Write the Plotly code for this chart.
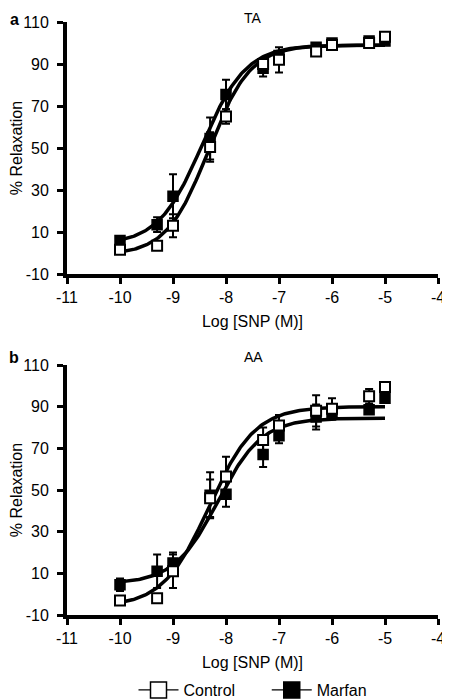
import numpy as np
import plotly.graph_objects as go

# ---- data ----
log_snp = [-10, -9.3, -9, -8.3, -8, -7.3, -7, -6.3, -6, -5.3, -5]

ta_control = [1.5, 3.5, 13, 50.5, 65, 90, 92, 96, 99, 100, 103]
ta_control_err = [1.5, 2, 5.5, 7, 3.5, 2, 6, 1, 1, 1, 1]
ta_marfan = [6, 13.5, 27, 54.5, 75.5, 88, 94, 98, 100, 101, 101]
ta_marfan_err = [1.5, 3.5, 10.5, 10, 7, 4, 2, 1, 1, 1.5, 1]

aa_control = [-3, -2, 11, 46, 56.5, 74, 81, 88, 89, 95, 99.5]
aa_control_err = [1.5, 1.5, 8, 9, 9.5, 6, 5, 7.5, 5, 3.5, 2]
aa_marfan = [4.5, 11, 15, 47.5, 48, 67, 76, 85, 87, 88.5, 94]
aa_marfan_err = [3, 8, 5, 11, 6, 6, 3.5, 6, 3, 2, 2]

# fitted sigmoid parameters: bottom, top, logEC50, hill
ta_control_fit = [-1, 99, -8.33, 1.1]
ta_marfan_fit = [4, 99, -8.45, 1.05]
aa_control_fit = [-6, 90, -8.32, 1.0]
aa_marfan_fit = [5, 84.5, -8.15, 1.05]

x_ticks = [-11, -10, -9, -8, -7, -6, -5, -4]
y_ticks = [-10, 10, 30, 50, 70, 90, 110]


def sigmoid(p, x):
    b, t, ec, h = p
    return b + (t - b) / (1 + 10 ** (h * (ec - x)))


xfit = np.linspace(-10, -5, 200)

FONT = "Liberation Sans, Arial, sans-serif"
fig = go.Figure()

panels = [
    ("x", "y", ta_control, ta_control_err, ta_marfan, ta_marfan_err, ta_control_fit, ta_marfan_fit),
    ("x2", "y2", aa_control, aa_control_err, aa_marfan, aa_marfan_err, aa_control_fit, aa_marfan_fit),
]

for xa, ya, cy, ce, my, me, cf, mf in panels:
    for p in (cf, mf):
        fig.add_trace(go.Scatter(x=xfit, y=sigmoid(p, xfit), mode="lines",
                                 line=dict(color="black", width=3.5),
                                 xaxis=xa, yaxis=ya, showlegend=False, hoverinfo="skip"))
    fig.add_trace(go.Scatter(x=log_snp, y=my, mode="markers",
                             marker=dict(symbol="square", size=10, color="black",
                                         line=dict(color="black", width=1.5)),
                             error_y=dict(type="data", array=me, color="black", thickness=2, width=4),
                             xaxis=xa, yaxis=ya, showlegend=False))
    fig.add_trace(go.Scatter(x=log_snp, y=cy, mode="markers",
                             marker=dict(symbol="square", size=10, color="white",
                                         line=dict(color="black", width=2)),
                             error_y=dict(type="data", array=ce, color="black", thickness=2, width=4),
                             xaxis=xa, yaxis=ya, showlegend=False))

# legend entries
fig.add_trace(go.Scatter(x=[None], y=[None], mode="lines+markers", name="Control      ",
                         marker=dict(symbol="square", size=16, color="white", line=dict(color="black", width=1.5)),
                         line=dict(color="black", width=1.2)))
fig.add_trace(go.Scatter(x=[None], y=[None], mode="lines+markers", name="Marfan",
                         marker=dict(symbol="square", size=16, color="black", line=dict(color="black", width=1.5)),
                         line=dict(color="black", width=1.2)))

axis_common = dict(showline=True, linewidth=4, linecolor="black", ticks="outside",
                   ticklen=6, tickwidth=3, tickcolor="black", showgrid=False, zeroline=False,
                   automargin=False,
                   tickfont=dict(family=FONT, size=16, color="black"))

xa_common = dict(axis_common, range=[-11, -4], tickvals=x_ticks,
                 ticktext=[str(v) for v in x_ticks],
                 title=dict(text="Log [SNP (M)]", font=dict(family=FONT, size=16, color="black"), standoff=12))
ya_common = dict(axis_common, range=[-10, 110], tickvals=y_ticks,
                 ticktext=[str(v) for v in y_ticks], ticklabelstandoff=5,
                 title=dict(text="% Relaxation", font=dict(family=FONT, size=16, color="black"), standoff=1))

# the page puts the figure 8 px from the window's top-left corner
OFF = 8
W, H = 450 - OFF, 700 - OFF
l, r, t, b = 67 - OFF, 12, 22 - OFF, 85
pw, ph = W - l - r, H - t - b
plot_bottom = H - b


def px2paper(xp, yp):
    # xp, yp in window pixels
    return (xp - OFF - l) / pw, (plot_bottom - (yp - OFF)) / ph


top_dom = [(plot_bottom - (274 - OFF)) / ph, 1.0]
bot_dom = [0.0, (plot_bottom - (365 - OFF)) / ph]

anns = []
for txt, xp, yp, fs, bold in [("TA", 253, 17.5, 14, False), ("AA", 253, 357, 14, False),
                              ("a", 14, 19, 16, True), ("b", 14, 357, 16, True)]:
    xx, yy = px2paper(xp, yp)
    anns.append(dict(text=("<b>%s</b>" % txt) if bold else txt, x=xx, y=yy, xref="paper", yref="paper",
                     showarrow=False, xanchor="center", yanchor="middle",
                     font=dict(family=FONT, size=fs, color="black")))

lx, ly = px2paper(253, 690)

fig.update_layout(
    width=W, height=H,
    margin=dict(l=l, r=r, t=t, b=b, autoexpand=False),
    paper_bgcolor="white", plot_bgcolor="white",
    font=dict(family=FONT, size=15, color="black"),
    xaxis=dict(xa_common, domain=[0, 1], anchor="y"),
    yaxis=dict(ya_common, domain=top_dom, anchor="x"),
    xaxis2=dict(xa_common, domain=[0, 1], anchor="y2"),
    yaxis2=dict(ya_common, domain=bot_dom, anchor="x2"),
    showlegend=True,
    legend=dict(orientation="h", x=lx, xanchor="center", y=ly, yanchor="middle",
                font=dict(family=FONT, size=16, color="black"), itemwidth=40),
    annotations=anns,
)

fig.write_html("out.html")
